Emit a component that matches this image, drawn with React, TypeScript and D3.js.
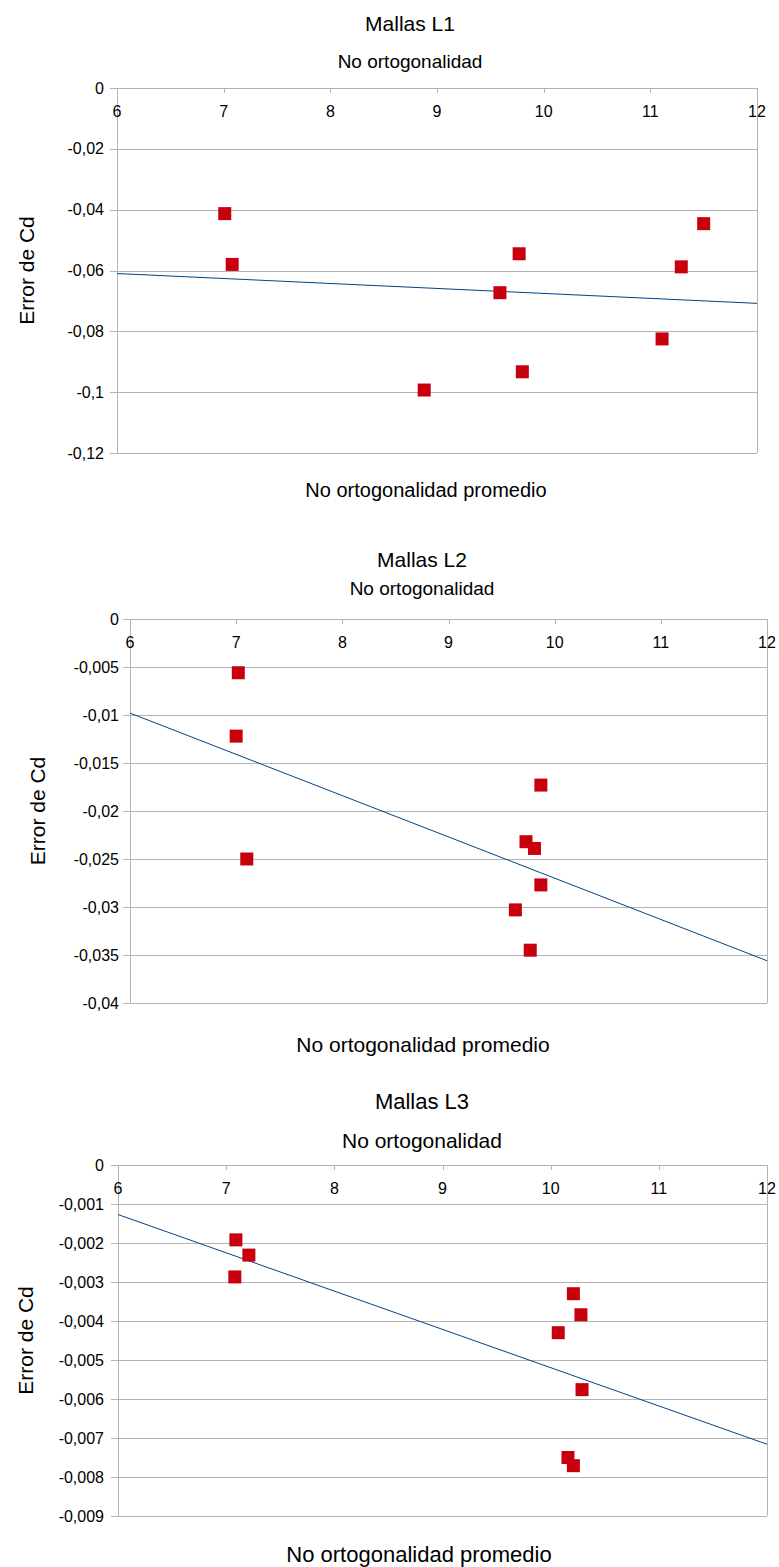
import React, { useEffect, useRef } from "react";
import * as d3 from "d3";

const xTicks = [6, 7, 8, 9, 10, 11, 12];

// Mallas L1
const l1X = [7.01, 7.08, 8.88, 9.59, 9.77, 9.8, 11.11, 11.29, 11.5];
const l1Y = [-0.0413, -0.058, -0.0993, -0.0673, -0.0545, -0.0933, -0.0825, -0.0588, -0.0446];
const l1YTicks = [0, -0.02, -0.04, -0.06, -0.08, -0.1, -0.12];
const l1Trend = [-0.061, -0.0708]; // y at x=6 and x=12

// Mallas L2
const l2X = [7.02, 7.0, 7.1, 9.87, 9.73, 9.81, 9.87, 9.63, 9.77];
const l2Y = [-0.0056, -0.0122, -0.025, -0.0173, -0.0232, -0.0239, -0.0277, -0.0303, -0.0345];
const l2YTicks = [0, -0.005, -0.01, -0.015, -0.02, -0.025, -0.03, -0.035, -0.04];
const l2Trend = [-0.0098, -0.0356];

// Mallas L3
const l3X = [7.09, 7.21, 7.08, 10.21, 10.28, 10.07, 10.29, 10.16, 10.21];
const l3Y = [-0.00192, -0.00231, -0.00287, -0.0033, -0.00384, -0.0043, -0.00576, -0.0075, -0.00771];
const l3YTicks = [0, -0.001, -0.002, -0.003, -0.004, -0.005, -0.006, -0.007, -0.008, -0.009];
const l3Trend = [-0.00127, -0.00716];

const titles = ["Mallas L1", "Mallas L2", "Mallas L3"];
const subtitle = "No ortogonalidad";
const xTitle = "No ortogonalidad promedio";
const yTitle = "Error de Cd";

const grid = "#b3b3b3";
const markerColor = "#c8000e";
const trendColor = "#004586";
const font = "'Liberation Sans', Arial, sans-serif";

const fmt = d3.formatLocale({
    decimal: ",",
    thousands: ".",
    grouping: [3],
    currency: ["", ""],
    minus: "-",
}).format("~g");

const layouts = [
    { x0: 117, x1: 757, y0: 88, y1: 453, cx: 410, titleY: 31, subY: 68, xTitleX: 426, xTitleY: 497, yTitleX: 27, tSize: 21, sSize: 19, aSize: 20, labGap: 13 },
    { x0: 130, x1: 767, y0: 619, y1: 1003, cx: 422, titleY: 567, subY: 595, xTitleX: 423, xTitleY: 1052, yTitleX: 38, tSize: 21, sSize: 19, aSize: 21, labGap: 11 },
    { x0: 118, x1: 767, y0: 1165, y1: 1516, cx: 422, titleY: 1109, subY: 1148, xTitleX: 419, xTitleY: 1562, yTitleX: 26, tSize: 22, sSize: 21, aSize: 22, labGap: 14 },
];

const series = [
    { xs: l1X, ys: l1Y, yTicks: l1YTicks, trend: l1Trend },
    { xs: l2X, ys: l2Y, yTicks: l2YTicks, trend: l2Trend },
    { xs: l3X, ys: l3Y, yTicks: l3YTicks, trend: l3Trend },
];

const App = () => {
    const ref = useRef<SVGSVGElement>(null);

    useEffect(() => {
        document.body.style.margin = "0";
        const svg = d3.select(ref.current);
        svg.selectAll("*").remove();
        svg.append("rect").attr("width", 779).attr("height", 1567).attr("fill", "#fff");

        series.forEach((s, i) => {
            const L = layouts[i];
            const g = svg.append("g").style("font-family", font);

            const xScale = d3.scaleLinear().domain([6, 12]).range([L.x0, L.x1]);
            const yMin = d3.min(s.yTicks) as number;
            const yScale = d3.scaleLinear().domain([0, yMin]).range([L.y0, L.y1]);

            // grid lines + y ticks
            g.selectAll(".grid")
                .data(s.yTicks)
                .enter()
                .append("line")
                .attr("x1", L.x0 - 7)
                .attr("x2", L.x1)
                .attr("y1", (d) => Math.round(yScale(d)) + 0.5)
                .attr("y2", (d) => Math.round(yScale(d)) + 0.5)
                .attr("stroke", grid)
                .attr("stroke-width", 1);

            // left + right frame
            [L.x0, L.x1].forEach((x) => {
                g.append("line")
                    .attr("x1", x + 0.5)
                    .attr("x2", x + 0.5)
                    .attr("y1", L.y0)
                    .attr("y2", L.y1)
                    .attr("stroke", grid);
            });

            // x ticks
            g.selectAll(".xt")
                .data(xTicks)
                .enter()
                .append("line")
                .attr("x1", (d) => Math.round(xScale(d)) + 0.5)
                .attr("x2", (d) => Math.round(xScale(d)) + 0.5)
                .attr("y1", L.y0)
                .attr("y2", L.y0 + 5)
                .attr("stroke", grid);

            g.selectAll(".xl")
                .data(xTicks)
                .enter()
                .append("text")
                .attr("x", (d) => xScale(d))
                .attr("y", L.y0 + 29)
                .attr("text-anchor", "middle")
                .attr("font-size", 16)
                .text((d) => d);

            g.selectAll(".yl")
                .data(s.yTicks)
                .enter()
                .append("text")
                .attr("x", L.x0 - L.labGap)
                .attr("y", (d) => yScale(d) + 5.5)
                .attr("text-anchor", "end")
                .attr("font-size", 16)
                .text((d) => fmt(d));

            // trend line
            const line = d3
                .line<number>()
                .x((d, j) => xScale(j === 0 ? 6 : 12))
                .y((d) => yScale(d));
            g.append("path")
                .attr("d", line(s.trend))
                .attr("fill", "none")
                .attr("stroke", trendColor)
                .attr("stroke-width", 1);

            // markers
            const size = 13;
            g.selectAll(".pt")
                .data(s.xs.map((x, j) => [x, s.ys[j]]))
                .enter()
                .append("rect")
                .attr("x", (d) => xScale(d[0]) - size / 2)
                .attr("y", (d) => yScale(d[1]) - size / 2)
                .attr("width", size)
                .attr("height", size)
                .attr("fill", markerColor);

            // titles
            g.append("text")
                .attr("x", L.cx)
                .attr("y", L.titleY)
                .attr("text-anchor", "middle")
                .attr("font-size", L.tSize)
                .text(titles[i]);
            g.append("text")
                .attr("x", L.cx)
                .attr("y", L.subY)
                .attr("text-anchor", "middle")
                .attr("font-size", L.sSize)
                .text(subtitle);
            g.append("text")
                .attr("x", L.xTitleX)
                .attr("y", L.xTitleY)
                .attr("text-anchor", "middle")
                .attr("font-size", L.aSize)
                .text(xTitle);
            g.append("text")
                .attr("transform", `translate(${L.yTitleX + 7},${(L.y0 + L.y1) / 2}) rotate(-90)`)
                .attr("text-anchor", "middle")
                .attr("font-size", 21)
                .text(yTitle);
        });
    }, []);

    return <svg ref={ref} width={779} height={1567} style={{ display: "block" }}></svg>;
};

export default App;
